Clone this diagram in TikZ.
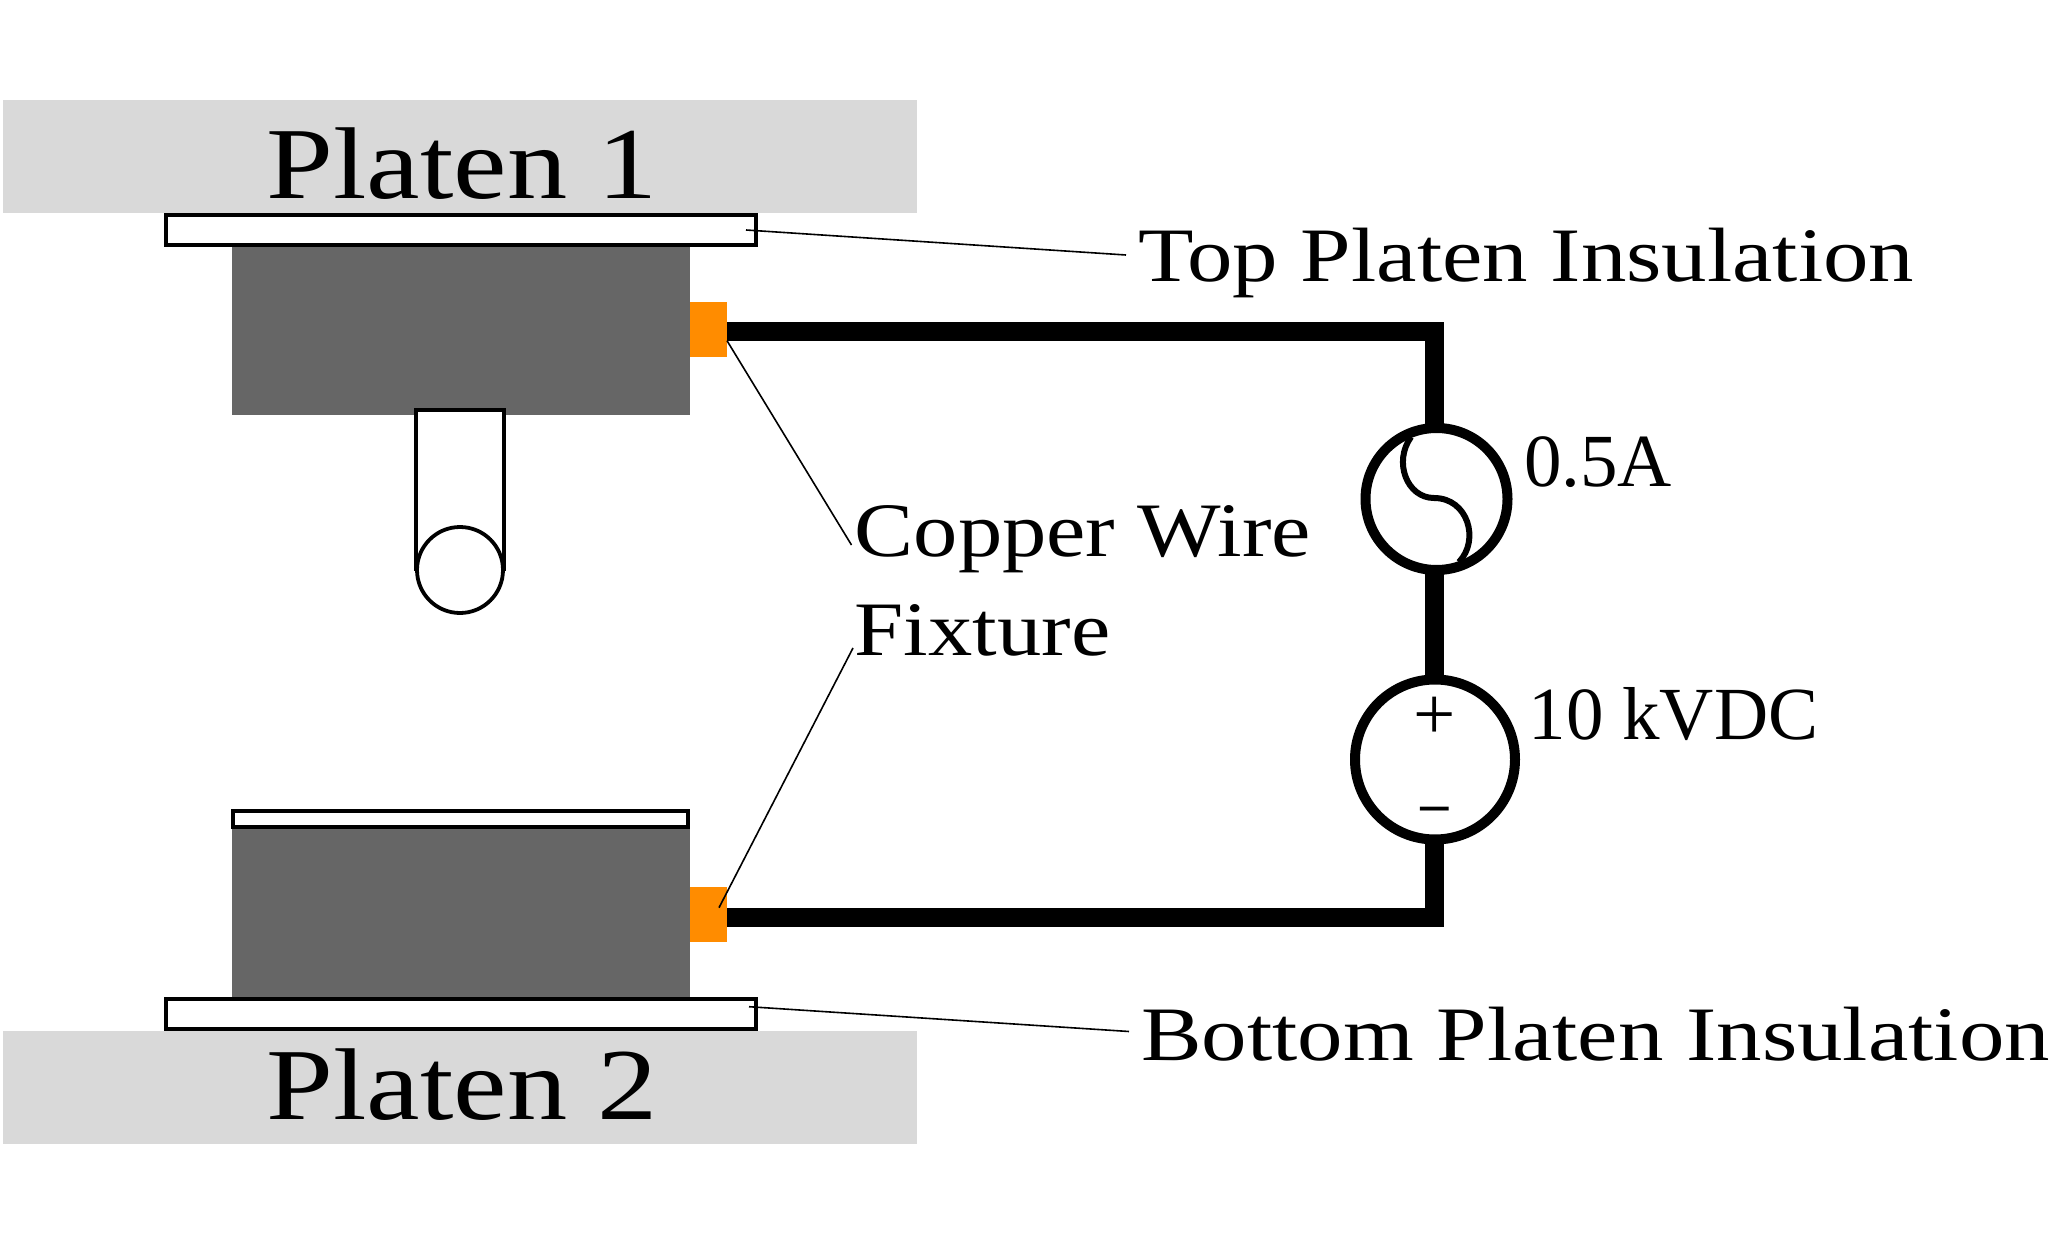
\documentclass[tikz,border=0pt]{standalone}
\usepackage{fontspec}
\setmainfont{Liberation Serif}
\newfontfamily\widea[FakeStretch=1.15]{Liberation Serif}
\newfontfamily\widec[FakeStretch=1.18]{Liberation Serif}
\newfontfamily\minusfont{DejaVu Sans}
\newcommand{\fs}[1]{\fontsize{#1}{#1}\selectfont}
\definecolor{platengray}{HTML}{D9D9D9}
\definecolor{blockgray}{HTML}{666666}
\definecolor{darkorange}{HTML}{FF8C00}
\tikzset{
  x=1pt,y=-1pt,
  platen/.style={fill=platengray,draw=none,inner sep=0,minimum width=914pt,minimum height=113pt},
  block/.style={fill=blockgray,draw=none,inner sep=0,minimum width=458.5pt,minimum height=169pt},
  insul/.style={fill=white,draw=black,line width=4pt,inner sep=0,minimum width=590pt,minimum height=30pt},
  thinins/.style={fill=white,draw=black,line width=4pt,inner sep=0,minimum width=455pt,minimum height=16pt},
  clamp/.style={fill=darkorange,draw=none,inner sep=0,minimum width=37pt,minimum height=55pt},
  wire/.style={line width=19pt,line join=miter},
  leader/.style={line width=1.6pt,draw=black},
  source/.style={circle,fill=white,draw=black,line width=10pt,inner sep=0},
  bigtxt/.style={font=\widec\fs{102},inner sep=0,anchor=base},
  lbl/.style={inner sep=0,anchor=base west},
  vallbl/.style={font=\fs{75},inner sep=0,anchor=base west},
  pin/.style={fill=white,draw=black,line width=3.8pt,inner sep=0},
}
\begin{document}
\begin{tikzpicture}
\useasboundingbox (0,0) rectangle (2065,1252);
% platens
\node[platen] (p1) at (460,156.5) {};
\node[platen] (p2) at (460,1087) {};
\node[bigtxt] (p1t) at (462,199) {Platen 1};
\node[bigtxt] (p2t) at (462,1119) {Platen 2};
% blocks
\node[block] (b1) at (460.75,330.5) {};
\node[block,minimum height=168pt] (b2) at (460.75,913) {};
% insulation
\node[insul] (ti) at (461.25,229.7) {};
\node[insul] (bi) at (461.25,1013.8) {};
\node[thinins] (si) at (460.75,819.2) {};
% tool pin
\node[pin,minimum width=87.5pt,minimum height=159pt] (pinr) at (460,489.5) {};
\node[pin,circle,minimum size=86pt] (pinc) at (460,570) {};
% clamps
\node[clamp] (c1) at (708.5,329.5) {};
\node[clamp] (c2) at (708.5,914) {};
% wire
\coordinate (w1) at (727,331);
\coordinate (w2) at (727,917);
\coordinate (acn) at (1434,430);
\coordinate (acs) at (1434,570);
\coordinate (dcn) at (1434,680);
\coordinate (dcs) at (1434,840);
\draw[wire] (w1) -| (acn);
\draw[wire] (acs) -- (dcn);
\draw[wire] (dcs) |- (w2);
\node[source,minimum size=142pt] (ac) at (1436.5,499) {};
\node[source,minimum size=160pt] (dc) at (1435,759.5) {};
\draw[line width=6pt,line cap=butt] (1411,437) .. controls (1393,462) and (1407,498) .. (1434,498) .. controls (1468,498) and (1480,540) .. (1459,562);
\node[font=\fs{75},inner sep=0] (plus) at (1435,718.5) {+};
\node[font=\minusfont\fs{46},inner sep=0] (minus) at (1435,815) {−};
% labels
\node[lbl,font=\widec\fs{77}] (tl) at (1138,281.7) {Top Platen Insulation};
\node[lbl,font=\widec\fs{77}] (bl) at (1141,1060.6) {Bottom Platen Insulation};
\node[lbl,font=\widea\fs{77}] (cw) at (854.5,556.7) {Copper Wire};
\node[lbl,font=\widea\fs{77}] (fx) at (854.5,655) {Fixture};
\node[vallbl] (a) at (1524,486.7) {0.5A};
\node[vallbl] (v) at (1528.5,739) {10 kVDC};
% leaders
\coordinate (tls) at (746,230);
\coordinate (tle) at (1126,255);
\coordinate (bls) at (749,1006.7);
\coordinate (ble) at (1129,1031.5);
\coordinate (cws) at (727,340.7);
\coordinate (cwe) at (851.5,545);
\coordinate (fxs) at (719,907.7);
\coordinate (fxe) at (853,648);
\draw[leader] (tls) -- (tle);
\draw[leader] (bls) -- (ble);
\draw[leader] (cws) -- (cwe);
\draw[leader] (fxs) -- (fxe);
\end{tikzpicture}
\end{document}
